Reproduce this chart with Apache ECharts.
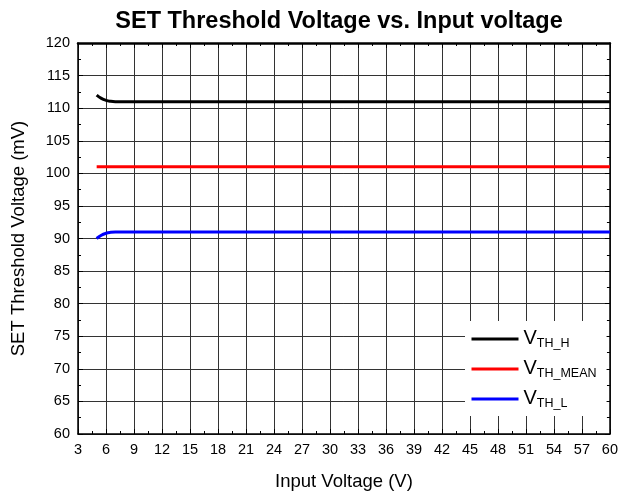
<!DOCTYPE html>
<html>
<head>
<meta charset="utf-8">
<script src="https://cdn.jsdelivr.net/npm/echarts@6/dist/echarts.min.js"></script>
<style>
	html, body { margin: 0; padding: 0; background: #fff; }
	#chart { width: 621px; height: 496px; }
</style>
</head>
<body>
<div id="chart"></div>
<script>
// input voltage (V) and threshold readings (mV)
var vin = [5, 5.5, 6, 6.5, 7, 8, 10, 15, 20, 30, 40, 50, 60];
var vthH = [112, 111.5, 111.2, 111.05, 111, 111, 111, 111, 111, 111, 111, 111, 111];
var vthMean = [101, 101, 101, 101, 101, 101, 101, 101, 101, 101, 101, 101, 101];
var vthL = [90, 90.5, 90.8, 90.95, 91, 91, 91, 91, 91, 91, 91, 91, 91];

var seriesNames = ['V_TH_H', 'V_TH_MEAN', 'V_TH_L'];
var seriesColors = ['#000000', '#ff0000', '#0000ff'];
var seriesData = [vthH, vthMean, vthL];

function pairs(ys) {
	var out = [];
	for (var i = 0; i < vin.length; i++) {
		out.push([vin[i], ys[i]]);
	}
	return out;
}

var font = 'Liberation Sans, Arial, sans-serif';

var myChart = echarts.init(document.getElementById('chart'));

var axisLine = { show: true, lineStyle: { color: '#000', width: 1.5 } };
var axisTick = { show: true, inside: true, length: 5, lineStyle: { color: '#000' } };
var minorTick = { show: true, splitNumber: 2, length: 3, lineStyle: { color: '#000' } };
var gridLine = { show: true, lineStyle: { color: '#333', width: 1 } };

var series = [];
for (var i = 0; i < seriesNames.length; i++) {
	series.push({
		name: seriesNames[i],
		type: 'line',
		smooth: true,
		showSymbol: false,
		symbol: 'none',
		data: pairs(seriesData[i]),
		lineStyle: { color: seriesColors[i], width: 3 },
		itemStyle: { color: seriesColors[i] }
	});
}

var option = {
	backgroundColor: '#fff',
	animation: false,
	textStyle: { fontFamily: font },
	title: {
		text: 'SET Threshold Voltage vs. Input voltage',
		left: 334,
		textAlign: 'center',
		top: 5,
		textStyle: { fontFamily: font, fontSize: 23.5, fontWeight: 'bold', color: '#000' }
	},
	grid: { left: 78, right: 10, top: 43, bottom: 61, show: false },
	legend: {
		orient: 'vertical',
		left: 465,
		top: 321,
		width: 127,
		height: 94,
		backgroundColor: '#fff',
		padding: [5, 10, 6, 5],
		itemWidth: 47,
		itemHeight: 14,
		itemGap: 6,
		itemStyle: { opacity: 0 },
		lineStyle: { width: 3 },
		data: seriesNames,
		formatter: function(name) {
			var sub = name.substring(2);
			return '{v|V}{s|' + sub + '}';
		},
		textStyle: {
			fontFamily: font,
			color: '#000',
			rich: {
				v: { fontSize: 20, fontFamily: font, color: '#000', lineHeight: 22, verticalAlign: 'top' },
				s: { fontSize: 12.5, fontFamily: font, color: '#000', lineHeight: 22, verticalAlign: 'bottom', padding: [11, 0, 0, 0] }
			}
		}
	},
	xAxis: [{
		type: 'value',
		min: 3,
		max: 60,
		interval: 3,
		name: 'Input Voltage (V)',
		nameLocation: 'middle',
		nameGap: 38,
		nameTextStyle: { fontFamily: font, fontSize: 18.5, color: '#000' },
		axisLine: axisLine,
		axisTick: axisTick,
		minorTick: minorTick,
		axisLabel: { fontFamily: font, fontSize: 14.5, color: '#000', margin: 8 },
		splitLine: gridLine
	}, {
		type: 'value',
		position: 'top',
		min: 3,
		max: 60,
		interval: 3,
		axisLine: { show: true, lineStyle: { color: '#000', width: 2.5 } },
		axisTick: axisTick,
		minorTick: minorTick,
		axisLabel: { show: false },
		splitLine: { show: false }
	}],
	yAxis: [{
		type: 'value',
		min: 60,
		max: 120,
		interval: 5,
		name: 'SET Threshold Voltage (mV)',
		nameLocation: 'middle',
		nameGap: 50,
		nameTextStyle: { fontFamily: font, fontSize: 18.5, color: '#000' },
		axisLine: axisLine,
		axisTick: axisTick,
		minorTick: minorTick,
		axisLabel: { fontFamily: font, fontSize: 14.5, color: '#000', margin: 8 },
		splitLine: gridLine
	}, {
		type: 'value',
		position: 'right',
		min: 60,
		max: 120,
		interval: 5,
		axisLine: axisLine,
		axisTick: axisTick,
		minorTick: minorTick,
		axisLabel: { show: false },
		splitLine: { show: false }
	}],
	series: series
};
myChart.setOption(option);
</script>
</body>
</html>
